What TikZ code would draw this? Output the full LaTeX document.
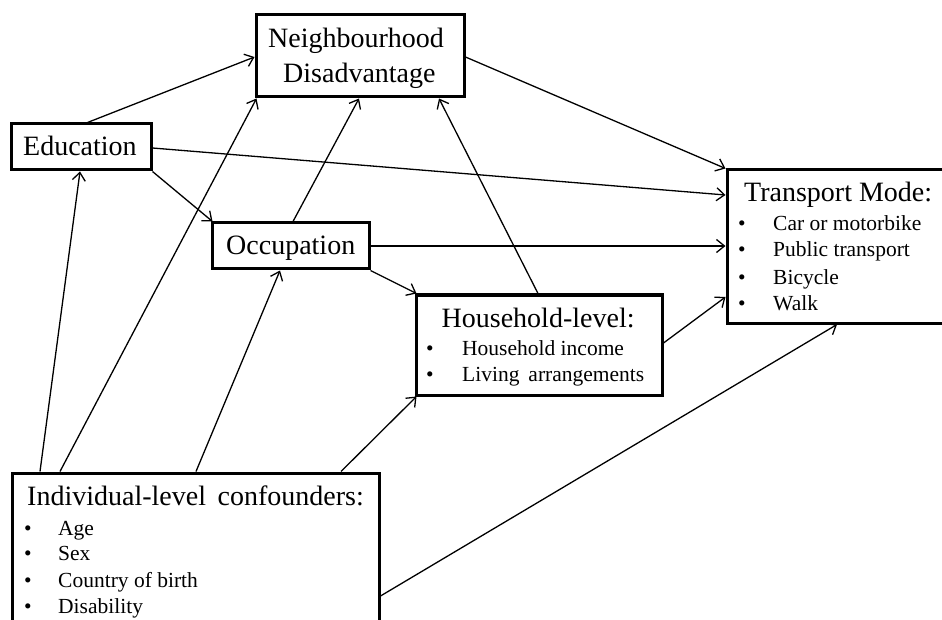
\documentclass[tikz,border=0pt]{standalone}
\usepackage{fontspec}
\setmainfont{Liberation Serif}
\usetikzlibrary{arrows.meta,calc}
\begin{document}
\begin{tikzpicture}[x=1pt,y=-1pt,
  box/.style={draw, line width=3pt, rectangle, inner sep=0pt},
  head/.style={font=\fontsize{28}{32}\selectfont, anchor=base west, inner sep=0pt},
  item/.style={font=\fontsize{21.5}{26}\selectfont, anchor=base west, inner sep=0pt},
  bul/.style={font=\fontsize{21.5}{26}\selectfont, anchor=base, inner sep=0pt},
  arr/.style={-{Straight Barb[length=8pt,width=13pt,line width=1.3pt]}, line width=1.3pt}
]
\useasboundingbox (0,0) rectangle (942,620);
\fill[white] (0,0) rectangle (942,620);
\clip (0,0) rectangle (942,620);

% boxes
\node[box, minimum width=208pt, minimum height=82pt] (nd) at (360,56) {};
\node[box, minimum width=140pt, minimum height=46pt] (edu) at (81,147) {};
\node[box, minimum width=157pt, minimum height=46pt] (occ) at (290.5,246) {};
\node[box, minimum width=246pt, minimum height=100pt] (hh) at (539,345) {};
\node[box, minimum width=240pt, minimum height=153pt] (tm) at (847,246.5) {};
\node[box, minimum width=367pt, minimum height=180pt] (ind) at (195.5,563) {};

% texts
\node[head] (ndA) at (268,48) {Neighbourhood};
\node[head] (ndB) at (283,83) {Disadvantage};
\node[head] (eduT) at (23,156) {Education};
\node[head] (occT) at (226,255) {Occupation};

\node[head] (tmT) at (744,202) {Transport Mode:};
\node[bul] (tmb1) at (742,231) {•};
\node[bul] (tmb2) at (742,257) {•};
\node[bul] (tmb3) at (742,284) {•};
\node[bul] (tmb4) at (742,310) {•};
\node[item] (tm1) at (773,231) {Car or motorbike};
\node[item] (tm2) at (773,257) {Public transport};
\node[item] (tm3) at (773,284) {Bicycle};
\node[item] (tm4) at (773,310) {Walk};

\node[head] (hhT) at (441.5,327) {Household-level:};
\node[bul] (hhb1) at (430,355) {•};
\node[bul] (hhb2) at (430,381) {•};
\node[item] (hh1) at (462,355) {Household income};
\node[item] (hh2) at (462,381) {Living\, arrangements};

\node[head] (indT) at (27,505) {Individual-level\, confounders:};
\node[bul] (indb1) at (28,535) {•};
\node[bul] (indb2) at (28,560) {•};
\node[bul] (indb3) at (28,587) {•};
\node[bul] (indb4) at (28,613) {•};
\node[item] (ind1) at (58,535) {Age};
\node[item] (ind2) at (58,560) {Sex};
\node[item] (ind3) at (58,587) {Country of birth};
\node[item] (ind4) at (58,613) {Disability};

% connectors
\draw[arr] ($(edu.north west)+(78,0)$) -- ($(nd.north west)+(0,43.5)$);
\draw[arr] ($(edu.north east)+(0,25.5)$) -- ($(tm.north west)+(0,26.5)$);
\draw[arr] (edu.south east) -- ($(occ.north west)+(2,0)$);
\draw[arr] ($(nd.north east)+(0,43.5)$) -- (tm.north west);
\draw[arr] (occ.east) -- (occ.east -| tm.west);
\draw[arr] ($(occ.north west)+(82.5,0)$) -- ($(nd.south west)+(104.5,0)$);
\draw[arr] (occ.south east) -- ($(hh.north west)+(2,0)$);
\draw[arr] ($(hh.north west)+(123.5,0)$) -- ($(nd.south west)+(184.5,0)$);
\draw[arr] ($(hh.north east)+(0,49.5)$) -- ($(tm.south west)+(0,-27.5)$);
\draw[arr] ($(ind.north west)+(29.5,0)$) -- ($(edu.south west)+(70.5,0)$);
\draw[arr] ($(ind.north west)+(49.5,0)$) -- ($(nd.south west)+(2,0)$);
\draw[arr] ($(ind.north west)+(185.5,0)$) -- ($(occ.south west)+(69.5,0)$);
\draw[arr] ($(ind.north west)+(330.5,0)$) -- ($(hh.south west)+(2,0)$);
\draw[arr] ($(ind.north east)+(0,124.5)$) -- ($(tm.south west)+(111.5,0)$);
\end{tikzpicture}
\end{document}
